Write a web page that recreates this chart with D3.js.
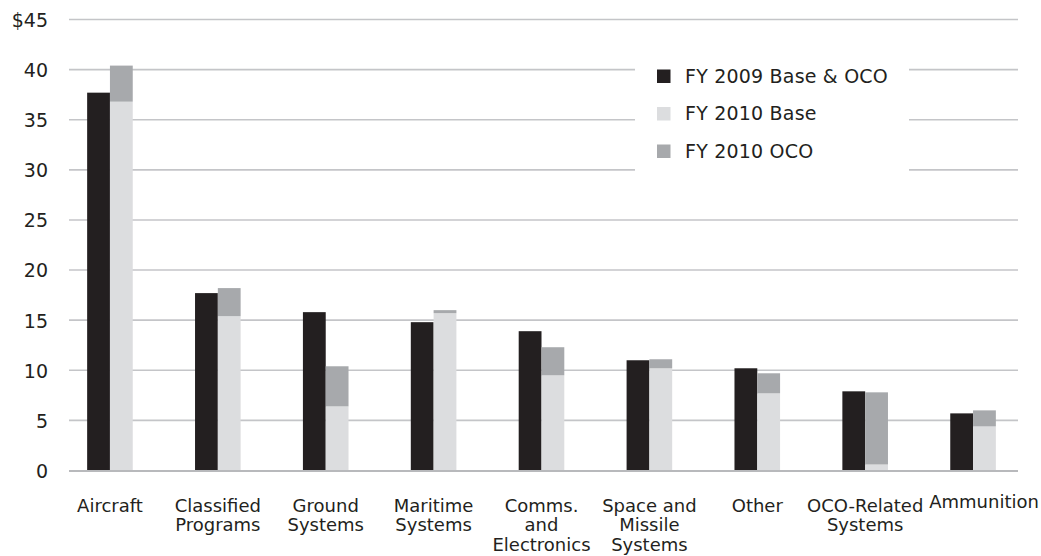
<!DOCTYPE html>
<html>
<head>
<meta charset="utf-8">
<script src="https://cdn.jsdelivr.net/npm/d3@7/dist/d3.min.js"></script>
<style>
  html, body { margin: 0; padding: 0; background: #fff; }
  svg { display: block; font-family: "DejaVu Sans", sans-serif; }
</style>
</head>
<body>
<svg id="chart" width="1041" height="556"></svg>
<script>
// Procurement funding by category, $ billions
const categories = [
  ["Aircraft"],
  ["Classified", "Programs"],
  ["Ground", "Systems"],
  ["Maritime", "Systems"],
  ["Comms.", "and", "Electronics"],
  ["Space and", "Missile", "Systems"],
  ["Other"],
  ["OCO-Related", "Systems"],
  ["Ammunition"]
];
const fy2009Total = [37.7, 17.7, 15.8, 14.8, 13.9, 11.0, 10.2, 7.9, 5.7];
const fy2010Base  = [36.8, 15.4, 6.4, 15.7, 9.5, 10.2, 7.7, 0.6, 4.4];
const fy2010Oco   = [3.6, 2.8, 4.0, 0.3, 2.8, 0.9, 2.0, 7.2, 1.6];
const yTicks = [0, 5, 10, 15, 20, 25, 30, 35, 40, 45];
const seriesNames = ["FY 2009 Base & OCO", "FY 2010 Base", "FY 2010 OCO"];
const seriesColors = ["#231f20", "#dcdddf", "#a7a9ac"];

const svg = d3.select("#chart");
const keys = categories.map(c => c.join(" "));

const x = d3.scaleBand().domain(keys).range([56, 1027]).paddingInner(0).paddingOuter(0);
const y = d3.scaleLinear().domain([0, 45]).range([470.5, 19.5]);
const barW = 22.8;
const gridX0 = 69, gridX1 = 1018;

// Horizontal gridlines
svg.append("g").selectAll("line").data(yTicks.filter(d => d > 0)).join("line")
  .attr("x1", gridX0).attr("x2", gridX1)
  .attr("y1", d => y(d)).attr("y2", d => y(d))
  .attr("stroke", "#c4c5c8").attr("stroke-width", 1.6);

// Y-axis tick labels
const yAxis = d3.axisLeft(y).tickValues(yTicks).tickSize(0).tickPadding(0)
  .tickFormat(d => d === 45 ? "$45" : d);
svg.append("g").attr("transform", "translate(48,0)").call(yAxis)
  .call(g => g.select(".domain").remove())
  .selectAll("text")
  .attr("font-family", "DejaVu Sans, sans-serif")
  .attr("font-size", 19).attr("fill", "#231f20").attr("dy", "0.36em");

// FY 2009 bars
svg.append("g").selectAll("rect").data(keys).join("rect")
  .attr("x", d => x(d) + x.bandwidth() / 2 - barW)
  .attr("width", barW)
  .attr("y", (d, i) => y(fy2009Total[i]))
  .attr("height", (d, i) => y(0) - y(fy2009Total[i]))
  .attr("fill", seriesColors[0]);

// FY 2010 stacked bars: base + OCO
const stack = d3.stack().keys(["base", "oco"])(
  keys.map((k, i) => ({ key: k, base: fy2010Base[i], oco: fy2010Oco[i] }))
);
svg.append("g").selectAll("g").data(stack).join("g")
  .attr("fill", (s, si) => seriesColors[si + 1])
  .selectAll("rect").data(s => s).join("rect")
  .attr("x", d => x(d.data.key) + x.bandwidth() / 2)
  .attr("width", barW)
  .attr("y", d => y(d[1]))
  .attr("height", d => y(d[0]) - y(d[1]));

// Baseline
svg.append("line")
  .attr("x1", gridX0).attr("x2", gridX1)
  .attr("y1", y(0) + 0.5).attr("y2", y(0) + 0.5)
  .attr("stroke", "#b8b9bc").attr("stroke-width", 2.2);

// Category labels
const xAxis = d3.axisBottom(x).tickSize(0).tickFormat("");
const xg = svg.append("g").attr("transform", `translate(0,${y(0)})`).call(xAxis);
xg.select(".domain").remove();
xg.selectAll(".tick").each(function (d, i) {
  const last = i === keys.length - 1;
  const t = d3.select(this).append("text")
    .attr("text-anchor", "middle")
    .attr("font-family", "DejaVu Sans, sans-serif")
    .attr("font-size", 18)
    .attr("fill", "#231f20")
    .attr("transform", last ? "translate(11,-4)" : null);
  categories[i].forEach((line, li) => {
    t.append("tspan").attr("x", 0).attr("y", 41 + li * 19.8).text(line);
  });
});

// Legend
const legend = svg.append("g");
legend.append("rect")
  .attr("x", 635).attr("y", 52).attr("width", 274).attr("height", 132)
  .attr("fill", "#fff");
seriesNames.forEach((name, i) => {
  const cy = 76 + i * 37.5;
  legend.append("rect")
    .attr("x", 657).attr("y", cy - 6.5).attr("width", 13.5).attr("height", 13.5)
    .attr("fill", seriesColors[i]);
  legend.append("text")
    .attr("x", 685).attr("y", cy).attr("dy", "0.36em")
    .attr("font-family", "DejaVu Sans, sans-serif")
    .attr("font-size", 19).attr("letter-spacing", 0.2).attr("fill", "#231f20")
    .text(name);
});
</script>
</body>
</html>
